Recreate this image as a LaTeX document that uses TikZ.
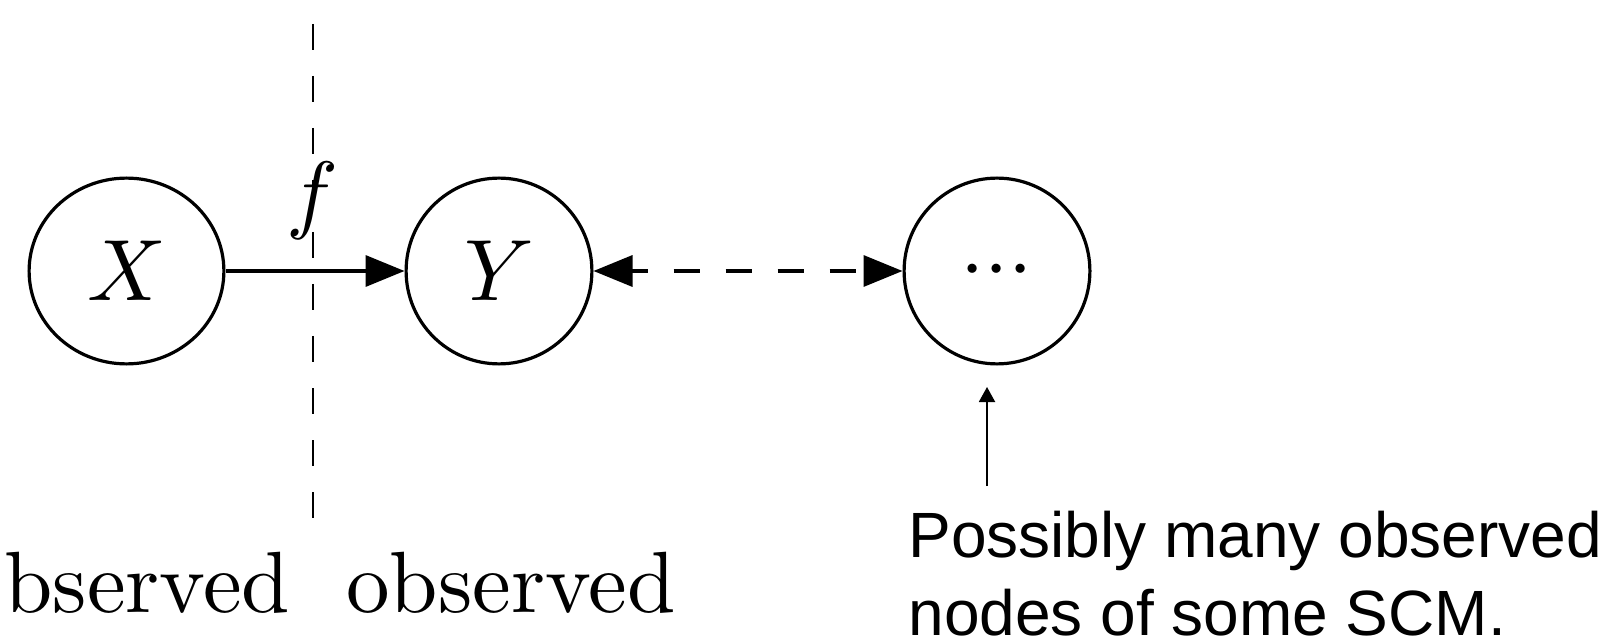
\documentclass[tikz,border=0pt]{standalone}
\usepackage{fontspec}
\newfontfamily\lmten{lmroman10-regular.otf}
\newfontfamily\notefont{Liberation Sans}
\DeclareFontShape{OT1}{cmr}{m}{n}{<->cmr10}{}
\DeclareFontShape{OML}{cmm}{m}{it}{<->cmmi10}{}
\DeclareFontShape{OMS}{cmsy}{m}{n}{<->cmsy10}{}
\DeclareFontShape{OMX}{cmex}{m}{n}{<->cmex10}{}
\usetikzlibrary{arrows.meta,shapes.geometric}
\begin{document}
\begin{tikzpicture}[x=0.5pt,y=-0.5pt,
  var/.style={ellipse, draw, line width=1.6pt, minimum width=92.9pt, minimum height=92.9pt, inner sep=0pt,
    font=\lmten\fontsize{43.5}{50}\selectfont},
  lbl/.style={inner sep=0pt, font=\lmten\fontsize{43.5}{50}\selectfont},
  note/.style={inner sep=0pt, text depth=0pt, font=\notefont\fontsize{32}{38.5}\selectfont},
  edge/.style={line width=1.8pt, -{Triangle[length=19.5pt,width=15.5pt]}},
  dedge/.style={line width=1.7pt, {Triangle[length=19.5pt,width=15.5pt]}-{Triangle[length=19.5pt,width=15.5pt]},
    dash pattern=on 13pt off 13pt, dash phase=5pt},
  divider/.style={line width=1pt, dash pattern=on 13pt off 13pt},
  pointer/.style={line width=1pt, -{Triangle[length=7.5pt,width=8pt]}}]
\useasboundingbox (0,0) rectangle (1604,641);

\node[var, minimum width=97.4pt] (X) at (126.5,271) {$X$};
\node[var] (Y) at (499,271) {$Y$};
\node[var] (D) at (997,271) {${\cdot}{\cdot}{\cdot}$};

\coordinate (divtop) at (313,24);
\coordinate (divbot) at (313,518);
\draw[divider] (divtop) -- (divbot);

\draw[edge] (X) -- (Y);
\node[lbl, anchor=base] (f) at (312,223) {$f$};
\draw[dedge] (Y) -- (D);

\node[lbl, anchor=base west] (unobs) at (4,612) {bserved};
\node[lbl, anchor=base west] (obs) at (346,612) {observed};

\coordinate (ptail) at (987,486);
\coordinate (phead) at (987,387);
\draw[pointer] (ptail) -- (phead);

\node[note, anchor=base west] (note1) at (908,557.5) {Possibly many observed};
\node[note, anchor=base west] (note2) at (908,635) {nodes of some SCM.};
\end{tikzpicture}
\end{document}
